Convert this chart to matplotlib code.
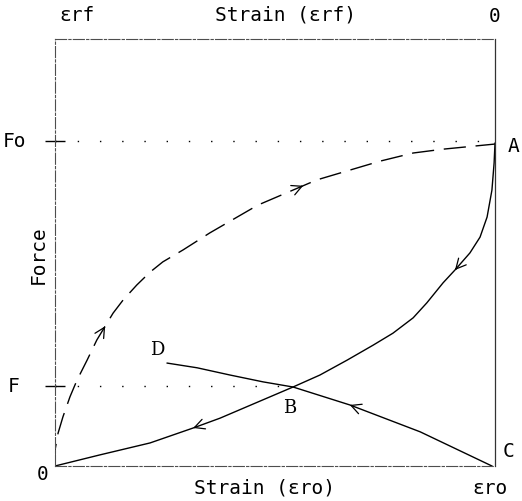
# Force vs strain loading/unloading diagram (scanned plotter figure)

import numpy as np
import matplotlib
matplotlib.use('Agg')
import matplotlib.pyplot as plt

# Force levels
Fo = 0.761
F = 0.187

# Loading curve O -> A (dashed)
load_x = [0.0, 0.0, 0.007, 0.018, 0.034, 0.050, 0.073, 0.095, 0.132, 0.155,
          0.186, 0.216, 0.245, 0.291, 0.352, 0.461, 0.595, 0.739, 0.814, 0.882, 1.0]
load_y = [0.0, 0.037, 0.077, 0.115, 0.162, 0.201, 0.248, 0.295, 0.358, 0.389,
          0.424, 0.454, 0.478, 0.506, 0.546, 0.611, 0.670, 0.714, 0.733, 0.742, 0.754]

# Unloading curve A -> B -> O (solid)
unload_x = [1.0, 0.998, 0.993, 0.982, 0.966, 0.943, 0.909, 0.882, 0.845, 0.814,
            0.768, 0.723, 0.664, 0.602, 0.541, 0.375, 0.314, 0.216, 0.102, 0.0]
unload_y = [0.756, 0.710, 0.646, 0.583, 0.536, 0.499, 0.459, 0.429, 0.382, 0.347,
            0.311, 0.283, 0.248, 0.213, 0.185, 0.112, 0.089, 0.054, 0.026, 0.0]

# Curve C -> B -> D (solid)
cd_x = [0.993, 0.830, 0.670, 0.541, 0.473, 0.398, 0.323, 0.255]
cd_y = [0.0, 0.080, 0.143, 0.185, 0.197, 0.213, 0.230, 0.241]

# where the little arrowheads sit (x position on each curve)
load_arrows = [0.114, 0.564]
unload_arrows = [0.909, 0.314]
cd_arrows = [0.670]

fig = plt.figure(figsize=(5.22, 5.01), dpi=100)
ax = fig.add_axes([55/522, 1 - 466/501, 440/522, 427/501])
ax.set_xlim(0, 1)
ax.set_ylim(0, 1)

txt = dict(family='DejaVu Sans Mono', fontsize=14, color='black')


def arrow_on(xs, ys, xa, size=13):
    xs = np.array(xs)
    ys = np.array(ys)
    order = np.argsort(xs, kind='stable')
    ya = np.interp(xa, xs[order], ys[order])
    # direction of travel follows the order of the points
    rev = xs[0] > xs[-1]
    i = np.searchsorted(-xs if rev else xs, -xa if rev else xa)
    i = min(max(i, 1), len(xs) - 1)
    d = np.array([xs[i] - xs[i-1], ys[i] - ys[i-1]])
    d = d / np.hypot(*d) * 0.004
    ax.annotate('', xy=(xa, ya), xytext=(xa - d[0], ya - d[1]),
                arrowprops=dict(arrowstyle='->,head_length=0.55,head_width=0.28',
                                lw=0.9, color='black', mutation_scale=size))


ax.plot(load_x, load_y, color='black', lw=1.0, dashes=(16, 7))
ax.plot(unload_x, unload_y, color='black', lw=1.0)
ax.plot(cd_x, cd_y, color='black', lw=1.0)

for xa in load_arrows:
    arrow_on(load_x, load_y, xa)
for xa in unload_arrows:
    arrow_on(unload_x, unload_y, xa)
for xa in cd_arrows:
    arrow_on(cd_x, cd_y, xa)

# dotted guide lines
ax.plot([0, 1], [Fo, Fo], color='black', lw=1.0, linestyle=(0, (1, 15)))
ax.plot([0, 0.541], [F, F], color='black', lw=1.0, linestyle=(0, (1, 15)))

# frame
for side in ['left', 'top', 'bottom']:
    ax.spines[side].set_linestyle((0, (10, 2, 2, 2)))
    ax.spines[side].set_linewidth(0.8)
    ax.spines[side].set_color('0.3')
ax.spines['right'].set_linewidth(0.9)
ax.spines['right'].set_color('0.2')

ax.set_xticks([])
ax.set_yticks([Fo, F])
ax.set_yticklabels([])
ax.tick_params(axis='y', direction='inout', length=14, width=1.0)

ax.text(-0.091, Fo, 'Fo', ha='center', va='center', **txt)
ax.text(-0.095, F, 'F', ha='center', va='center', **txt)
ax.text(-0.039, 0.494, 'Force', rotation=90, ha='center', va='center', **txt)

ax.text(0.011, 1.056, 'εrf', ha='left', va='center', transform=ax.transAxes, **txt)
ax.text(0.523, 1.056, 'Strain (εrf)', ha='center', va='center', transform=ax.transAxes, **txt)
ax.text(1.0, 1.052, '0', ha='center', va='center', transform=ax.transAxes, **txt)

ax.text(-0.027, -0.021, '0', ha='center', va='center', transform=ax.transAxes, **txt)
ax.text(0.477, -0.052, 'Strain (εro)', ha='center', va='center', transform=ax.transAxes, **txt)
ax.text(0.989, -0.052, 'εro', ha='center', va='center', transform=ax.transAxes, **txt)

ax.text(1.041, 0.749, 'A', ha='center', va='center', transform=ax.transAxes, **txt)
ax.text(1.030, 0.033, 'C', ha='center', va='center', transform=ax.transAxes, **txt)
ax.text(0.534, 0.136, 'B', ha='center', va='center', family='DejaVu Serif', fontsize=13)
ax.text(0.232, 0.272, 'D', ha='center', va='center', family='DejaVu Serif', fontsize=13)

fig.savefig('out.png', dpi=100)
